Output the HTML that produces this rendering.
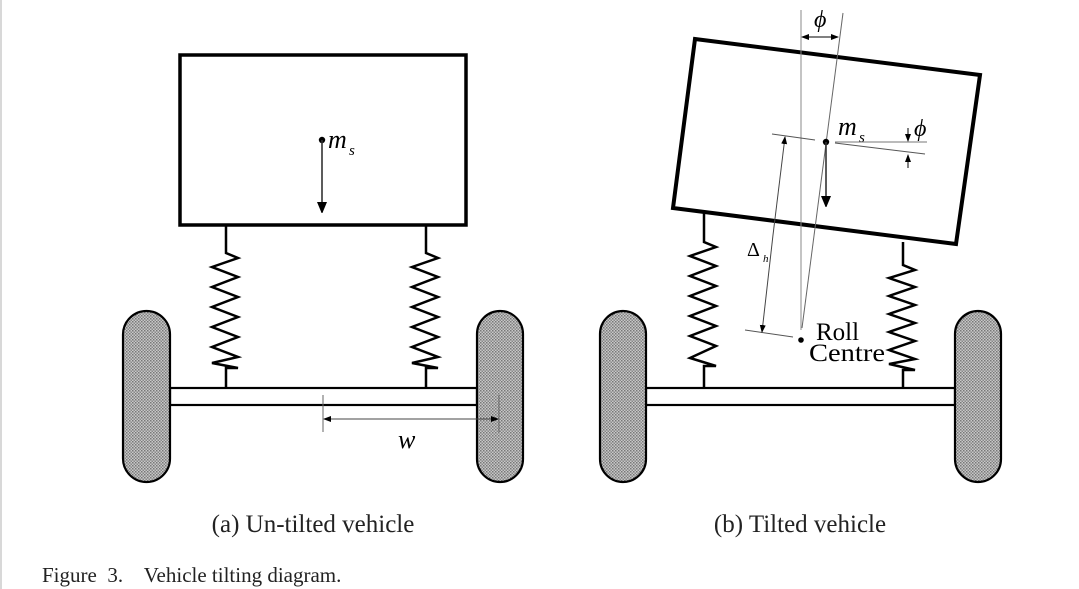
<!DOCTYPE html>
<html><head><meta charset="utf-8"><style>
html,body{margin:0;padding:0;background:#fff;}
svg{display:block}
</style></head><body>
<svg width="1079" height="589" viewBox="0 0 1079 589" xmlns="http://www.w3.org/2000/svg">
<defs>
<pattern id="hatch" width="3" height="3" patternUnits="userSpaceOnUse">
<rect width="3" height="3" fill="#c8c8c8"/><rect width="1.5" height="1.5" fill="#777"/><rect x="1.5" y="1.5" width="1.5" height="1.5" fill="#888"/>
</pattern>
<marker id="ah" markerWidth="10" markerHeight="12" refX="11" refY="6" orient="auto" markerUnits="userSpaceOnUse">
<path d="M0,1 L12,6 L0,11 Z" fill="#000"/></marker>
<marker id="as" markerWidth="8" markerHeight="8" refX="7" refY="4" orient="auto" markerUnits="userSpaceOnUse">
<path d="M0,1 L8,4 L0,7 Z" fill="#000"/></marker>
</defs>
<line x1="1" y1="0" x2="1" y2="589" stroke="#ccc" stroke-width="1.5"/>

<!-- LEFT -->
<rect x="180" y="55" width="286" height="170" fill="none" stroke="#000" stroke-width="3.5"/>
<circle cx="322" cy="140" r="3.2" fill="#000"/>
<line x1="322" y1="140" x2="322" y2="213" stroke="#333" stroke-width="1.6" marker-end="url(#ah)"/>
<text x="328" y="148" font-family="Liberation Serif,serif" font-style="italic" font-size="26">m</text>
<text x="349" y="155" font-family="Liberation Serif,serif" font-style="italic" font-size="15">s</text>
<rect x="170" y="388" width="307" height="17" fill="#fff" stroke="#000" stroke-width="2.2"/>
<rect x="123" y="311" width="47" height="171" rx="23.5" fill="url(#hatch)" stroke="#000" stroke-width="2.2"/>
<rect x="477" y="311" width="46" height="171" rx="23" fill="url(#hatch)" stroke="#000" stroke-width="2.2"/>
<line x1="323" y1="395" x2="323" y2="432" stroke="#666" stroke-width="1"/>
<line x1="499" y1="395" x2="499" y2="432" stroke="#666" stroke-width="1"/>
<line x1="334" y1="419" x2="498" y2="419" stroke="#444" stroke-width="1" marker-end="url(#as)"/>
<line x1="490" y1="419" x2="324" y2="419" stroke="#444" stroke-width="1" marker-end="url(#as)"/>
<text x="398" y="448" font-family="Liberation Serif,serif" font-style="italic" font-size="26">w</text>
<text x="313" y="532" text-anchor="middle" font-family="Liberation Serif,serif" font-size="25" fill="#222">(a) Un-tilted vehicle</text>

<!-- RIGHT -->
<polygon points="695,39 980,75 956,244 673,208" fill="#fff" stroke="#000" stroke-width="4" stroke-linejoin="miter"/>
<line x1="801" y1="10" x2="801" y2="330" stroke="#888" stroke-width="1"/>
<line x1="843" y1="13" x2="802" y2="328" stroke="#666" stroke-width="1"/>
<line x1="820" y1="37" x2="802" y2="37" stroke="#000" stroke-width="1" marker-end="url(#as)"/>
<line x1="820" y1="37" x2="838" y2="37" stroke="#000" stroke-width="1" marker-end="url(#as)"/>
<text x="814" y="27" font-family="Liberation Serif,serif" font-style="italic" font-size="24">ϕ</text>
<circle cx="826" cy="142" r="3.2" fill="#000"/>
<line x1="826" y1="142" x2="826" y2="207" stroke="#333" stroke-width="1.6" marker-end="url(#ah)"/>
<text x="838" y="135" font-family="Liberation Serif,serif" font-style="italic" font-size="26">m</text>
<text x="859" y="142" font-family="Liberation Serif,serif" font-style="italic" font-size="15">s</text>
<line x1="835" y1="142" x2="927" y2="142" stroke="#777" stroke-width="1"/>
<line x1="835" y1="143" x2="925" y2="154" stroke="#555" stroke-width="1"/>
<line x1="908" y1="128" x2="908" y2="141" stroke="#000" stroke-width="1" marker-end="url(#as)"/>
<line x1="908" y1="168" x2="908" y2="155" stroke="#000" stroke-width="1" marker-end="url(#as)"/>
<text x="914" y="136" font-family="Liberation Serif,serif" font-style="italic" font-size="24">ϕ</text>
<line x1="772" y1="134" x2="815" y2="140" stroke="#555" stroke-width="1"/>
<line x1="745" y1="330" x2="793" y2="337" stroke="#555" stroke-width="1"/>
<line x1="773" y1="235" x2="785" y2="137" stroke="#444" stroke-width="1" marker-end="url(#as)"/>
<line x1="773" y1="235" x2="762" y2="332" stroke="#444" stroke-width="1" marker-end="url(#as)"/>
<text x="747" y="256" font-family="Liberation Serif,serif" font-size="20">Δ</text>
<text x="763" y="262" font-family="Liberation Serif,serif" font-style="italic" font-size="11">h</text>
<circle cx="801" cy="340" r="2.8" fill="#000"/>
<text x="816" y="340" font-family="Liberation Serif,serif" font-size="25">Roll</text>
<text x="809" y="361" font-family="Liberation Serif,serif" font-size="25" textLength="76" lengthAdjust="spacingAndGlyphs">Centre</text>
<rect x="646" y="388" width="309" height="17" fill="#fff" stroke="#000" stroke-width="2.2"/>
<rect x="600" y="311" width="46" height="171" rx="23" fill="url(#hatch)" stroke="#000" stroke-width="2.2"/>
<rect x="955" y="311" width="46" height="171" rx="23" fill="url(#hatch)" stroke="#000" stroke-width="2.2"/>
<text x="800" y="532" text-anchor="middle" font-family="Liberation Serif,serif" font-size="25" fill="#222">(b) Tilted vehicle</text>

<text x="42" y="582" font-family="Liberation Serif,serif" font-size="21" fill="#222" xml:space="preserve">Figure  3.    Vehicle tilting diagram.</text>

<g fill="none" stroke="#000" stroke-width="2.5" stroke-linejoin="miter">
<path d="M226,225 V253 L238,258 L212,267 L238,277 L212,287 L238,297 L212,307 L238,317 L212,327 L238,337 L212,347 L238,357 L212,363 L238,368 H226 V388"/>
<path d="M426,225 V253 L438,258 L412,267 L438,277 L412,287 L438,297 L412,307 L438,317 L412,327 L438,337 L412,347 L438,357 L412,363 L438,368 H426 V388"/>
<path d="M704,212 V242 L716,247 L690,256 L716,266 L690,276 L716,286 L690,296 L716,306 L690,316 L716,326 L690,336 L716,346 L690,358 L716,366 H704 V388"/>
<path d="M903,242 V265 L915,270 L889,278 L915,287 L889,296 L915,305 L889,314 L915,323 L889,332 L915,341 L889,350 L915,359 L889,364 L915,370 H903 V388"/>
</g>
</svg>
</body></html>
